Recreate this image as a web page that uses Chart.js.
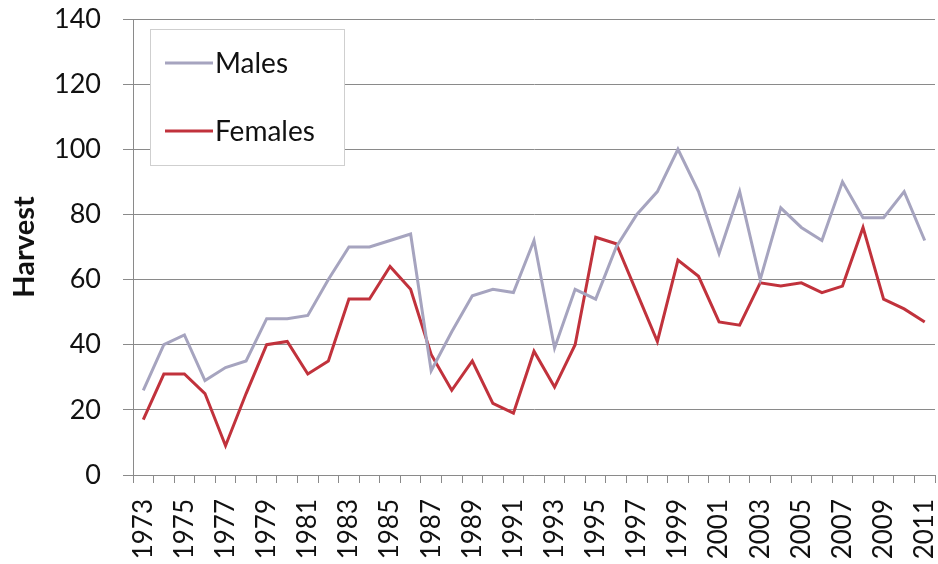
<!DOCTYPE html>
<html>
<head>
<meta charset="utf-8">
<script src="https://cdn.jsdelivr.net/npm/chart.js@4/dist/chart.umd.min.js"></script>
<style>
  html, body { margin: 0; padding: 0; background: #ffffff; }
  #wrap { width: 938px; height: 564px; }
</style>
</head>
<body>
<div id="wrap"><canvas id="c" width="938" height="564"></canvas></div>
<script>
const years = [
  '1973','1974','1975','1976','1977','1978','1979','1980','1981','1982',
  '1983','1984','1985','1986','1987','1988','1989','1990','1991','1992',
  '1993','1994','1995','1996','1997','1998','1999','2000','2001','2002',
  '2003','2004','2005','2006','2007','2008','2009','2010','2011'
];
const males = [
  26, 40, 43, 29, 33, 35, 48, 48, 49, 60,
  70, 70, 72, 74, 32, 44, 55, 57, 56, 72,
  39, 57, 54, 70, 80, 87, 100, 87, 68, 87,
  60, 82, 76, 72, 90, 79, 79, 87, 72
];
const females = [
  17, 31, 31, 25, 9, 25, 40, 41, 31, 35,
  54, 54, 64, 57, 37, 26, 35, 22, 19, 38,
  27, 40, 73, 71, 56, 41, 66, 61, 47, 46,
  59, 58, 59, 56, 58, 76, 54, 51, 47
];
const yTicks = [0, 20, 40, 60, 80, 100, 120, 140];
const seriesNames = ['Males', 'Females'];
const seriesColors = ['#a6a4bf', '#c1323c'];

const FONT = 'Lato, "Open Sans", "DejaVu Sans", sans-serif';

const insideLegend = {
  id: 'insideLegend',
  afterDraw(chart) {
    const ctx = chart.ctx;
    const x0 = 150, y0 = 29, w = 194, h = 136;
    ctx.save();
    ctx.fillStyle = '#ffffff';
    ctx.fillRect(x0, y0, w, h);
    ctx.strokeStyle = '#cfcfcf';
    ctx.lineWidth = 1;
    ctx.strokeRect(x0 + 0.5, y0 + 0.5, w, h);
    const rows = [63, 131];
    chart.data.datasets.forEach((ds, i) => {
      const y = rows[i];
      ctx.strokeStyle = ds.borderColor;
      ctx.lineWidth = 3;
      ctx.beginPath();
      ctx.moveTo(165, y);
      ctx.lineTo(213, y);
      ctx.stroke();
      ctx.fillStyle = '#111111';
      ctx.font = '28px ' + FONT;
      ctx.textBaseline = 'middle';
      ctx.textAlign = 'left';
      ctx.fillText(ds.label, 215, y + 1);
    });
    ctx.restore();
  }
};

new Chart(document.getElementById('c'), {
  type: 'line',
  data: {
    labels: years,
    datasets: [
      { label: seriesNames[0], data: males, borderColor: seriesColors[0], backgroundColor: seriesColors[0],
        borderWidth: 3, pointRadius: 0, tension: 0, fill: false },
      { label: seriesNames[1], data: females, borderColor: seriesColors[1], backgroundColor: seriesColors[1],
        borderWidth: 3, pointRadius: 0, tension: 0, fill: false }
    ]
  },
  options: {
    responsive: false,
    animation: false,
    devicePixelRatio: 1,
    layout: { padding: { top: 19, right: 3, left: 0, bottom: 0 } },
    plugins: {
      legend: { display: false },
      tooltip: { enabled: false }
    },
    scales: {
      x: {
        type: 'category',
        offset: true,
        grid: { display: true, offset: true, drawOnChartArea: false, tickLength: 8, color: '#8a8a8a', lineWidth: 1 },
        border: { display: true, color: '#8a8a8a', width: 1 },
        ticks: {
          autoSkip: false,
          minRotation: 90,
          maxRotation: 90,
          padding: 16,
          color: '#111111',
          font: { family: FONT, size: 26 },
          callback: function(val, idx) { return idx % 2 === 0 ? this.getLabelForValue(val) : ''; }
        },
        afterFit(scale) {
          scale.height = 89;
          scale.paddingLeft = 0; scale.paddingRight = 0;
        }
      },
      y: {
        min: 0,
        max: 140,
        afterBuildTicks(scale) { scale.ticks = yTicks.map(v => ({ value: v })); },
        grid: { color: '#8a8a8a', lineWidth: 1, tickLength: 10 },
        border: { display: true, color: '#8a8a8a', width: 1 },
        ticks: { padding: 22, color: '#111111', font: { family: FONT, size: 27 } },
        title: { display: true, text: 'Harvest', color: '#111111', font: { family: FONT, size: 29, weight: 'bold' }, padding: { top: 7, bottom: 0 } },
        afterFit(scale) {
          scale.width = 133;
          scale.paddingTop = 0; scale.paddingBottom = 0;
        }
      }
    }
  },
  plugins: [insideLegend]
});
</script>
</body>
</html>
